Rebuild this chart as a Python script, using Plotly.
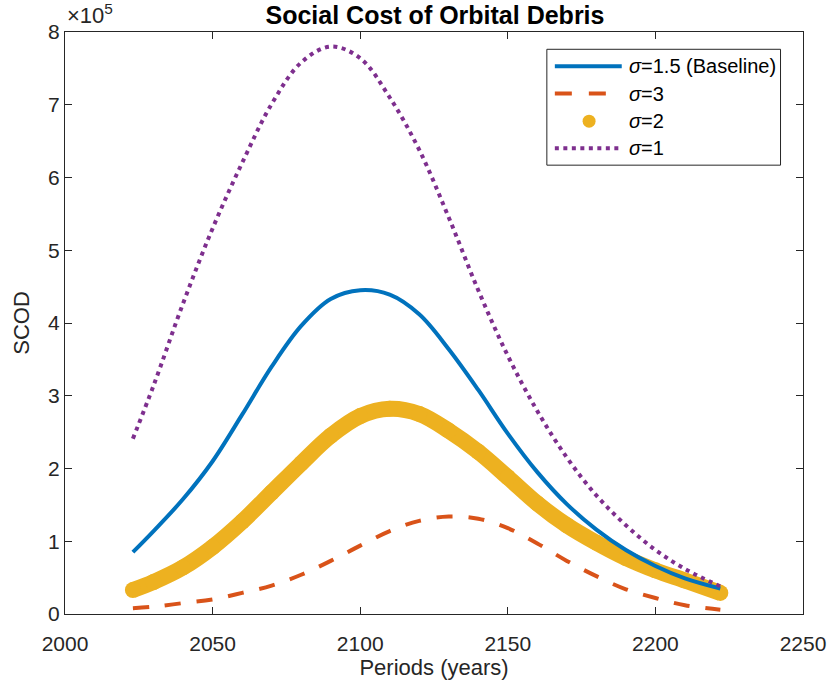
import plotly.graph_objects as go

years = [2023, 2030, 2040, 2050, 2060, 2070, 2080, 2090, 2100, 2110, 2120,
         2130, 2140, 2150, 2160, 2170, 2180, 2190, 2200, 2210, 2222]

# SCOD values in units of 1e5
sigma_15 = [0.85, 1.14, 1.58, 2.10, 2.74, 3.40, 3.96, 4.33, 4.45, 4.39, 4.12,
            3.64, 3.08, 2.48, 1.95, 1.51, 1.16, 0.88, 0.66, 0.49, 0.35]
sigma_3 = [0.08, 0.10, 0.15, 0.20, 0.29, 0.39, 0.54, 0.73, 0.94, 1.14, 1.28,
           1.34, 1.31, 1.18, 0.97, 0.73, 0.52, 0.34, 0.22, 0.12, 0.06]
sigma_2 = [0.33, 0.44, 0.64, 0.92, 1.27, 1.67, 2.07, 2.45, 2.72, 2.82, 2.75,
           2.52, 2.23, 1.88, 1.52, 1.22, 0.98, 0.77, 0.60, 0.46, 0.29]
sigma_1 = [2.41, 3.14, 4.27, 5.30, 6.20, 7.01, 7.58, 7.80, 7.64, 7.10, 6.38,
           5.45, 4.45, 3.55, 2.79, 2.15, 1.63, 1.22, 0.88, 0.62, 0.38]

legend_labels = ["<i>σ</i>=1.5 (Baseline)", "<i>σ</i>=3", "<i>σ</i>=2", "<i>σ</i>=1"]

scale = 1e5
x_ticks = [2000, 2050, 2100, 2150, 2200, 2250]
y_ticks = [0, 1, 2, 3, 4, 5, 6, 7, 8]

BLUE = "#0072BD"
ORANGE = "#D95319"
YELLOW = "#EDB120"
PURPLE = "#7E2F8E"
TXT = "#262626"
FONT = "Liberation Sans, Arial, sans-serif"

W, H = 829, 686
L, R, T, B = 64.5, 25.5, 31.7, 71.7
PW, PH = W - L - R, H - T - B


def px(xp):
    return (xp - L) / PW


def py(yp):
    return (H - B - yp) / PH


def sc(v):
    return [a * scale for a in v]


fig = go.Figure()

fig.add_trace(go.Scatter(x=years, y=sc(sigma_2), mode="lines+markers", name=legend_labels[2],
                         line=dict(color=YELLOW, width=16, shape="spline"),
                         marker=dict(color=YELLOW, size=16),
                         showlegend=False))
fig.add_trace(go.Scatter(x=years, y=sc(sigma_15), mode="lines", name=legend_labels[0],
                         line=dict(color=BLUE, width=4, shape="spline"), showlegend=False))
fig.add_trace(go.Scatter(x=years, y=sc(sigma_3), mode="lines", name=legend_labels[1],
                         line=dict(color=ORANGE, width=4, shape="spline", dash="16px,16px"),
                         showlegend=False))
fig.add_trace(go.Scatter(x=years, y=sc(sigma_1), mode="lines", name=legend_labels[3],
                         line=dict(color=PURPLE, width=4, shape="spline", dash="4px,4.5px"),
                         showlegend=False))

axis_common = dict(showgrid=False, zeroline=False, showline=True, linecolor=TXT,
                   linewidth=1, mirror="ticks", ticks="inside", ticklen=7,
                   tickcolor=TXT, tickfont=dict(family=FONT, size=21, color=TXT))

# MATLAB-style legend box
lx0, lx1, ly0, ly1 = 547, 781, 49, 165
rows = [66, 93.3, 121, 148]
sx0, sx1 = 555, 622
shapes = [dict(type="rect", xref="paper", yref="paper", x0=px(lx0), x1=px(lx1),
               y0=py(ly1), y1=py(ly0), line=dict(color=TXT, width=1), fillcolor="white",
               layer="above")]
shapes.append(dict(type="line", xref="paper", yref="paper", x0=px(sx0), x1=px(sx1),
                   y0=py(rows[0]), y1=py(rows[0]), line=dict(color=BLUE, width=4), layer="above"))
shapes.append(dict(type="line", xref="paper", yref="paper", x0=px(sx0), x1=px(sx1),
                   y0=py(rows[1]), y1=py(rows[1]), line=dict(color=ORANGE, width=4, dash="17px,17px"),
                   layer="above"))
cx, r = 589.3, 6.5
shapes.append(dict(type="circle", xref="paper", yref="paper", x0=px(cx - r), x1=px(cx + r),
                   y0=py(rows[2] + r), y1=py(rows[2] - r), line=dict(color=YELLOW, width=0),
                   fillcolor=YELLOW, layer="above"))
shapes.append(dict(type="line", xref="paper", yref="paper", x0=px(sx0), x1=px(sx1),
                   y0=py(rows[3]), y1=py(rows[3]), line=dict(color=PURPLE, width=4, dash="4px,4.5px"),
                   layer="above"))

annotations = [dict(text=lab, xref="paper", yref="paper", x=px(627), y=py(ry),
                    xanchor="left", yanchor="middle", showarrow=False,
                    font=dict(family=FONT, size=20, color="black"))
               for lab, ry in zip(legend_labels, rows)]
annotations.append(dict(text="×10<sup>5</sup>", xref="paper", yref="paper",
                        x=px(65), y=py(30), xanchor="left", yanchor="bottom",
                        showarrow=False, font=dict(family=FONT, size=22, color=TXT)))

fig.update_layout(
    width=W, height=H,
    margin=dict(l=L, r=R, t=T, b=B, autoexpand=False),
    paper_bgcolor="white", plot_bgcolor="white",
    font=dict(family=FONT, color=TXT),
    showlegend=False,
    title=dict(text="<b>Social Cost of Orbital Debris</b>", x=px(435), xanchor="center",
               xref="paper", yref="container", y=1 - 15.6 / H, yanchor="middle",
               font=dict(family=FONT, size=25, color="black")),
    xaxis=dict(range=[2000, 2250], tickvals=x_ticks, ticktext=[str(t) for t in x_ticks],
               ticklabelstandoff=11,
               title=dict(text="Periods (years)", font=dict(family=FONT, size=22, color=TXT),
                          standoff=1),
               **axis_common),
    yaxis=dict(range=[0, 8 * scale], tickvals=[t * scale for t in y_ticks],
               ticktext=[str(t) for t in y_ticks],
               title=dict(text="SCOD", font=dict(family=FONT, size=22, color=TXT),
                          standoff=12),
               **axis_common),
    shapes=shapes,
    annotations=annotations,
)

fig.write_html("out.html", config={"displayModeBar": False},
               post_script="document.body.style.margin='0';")
